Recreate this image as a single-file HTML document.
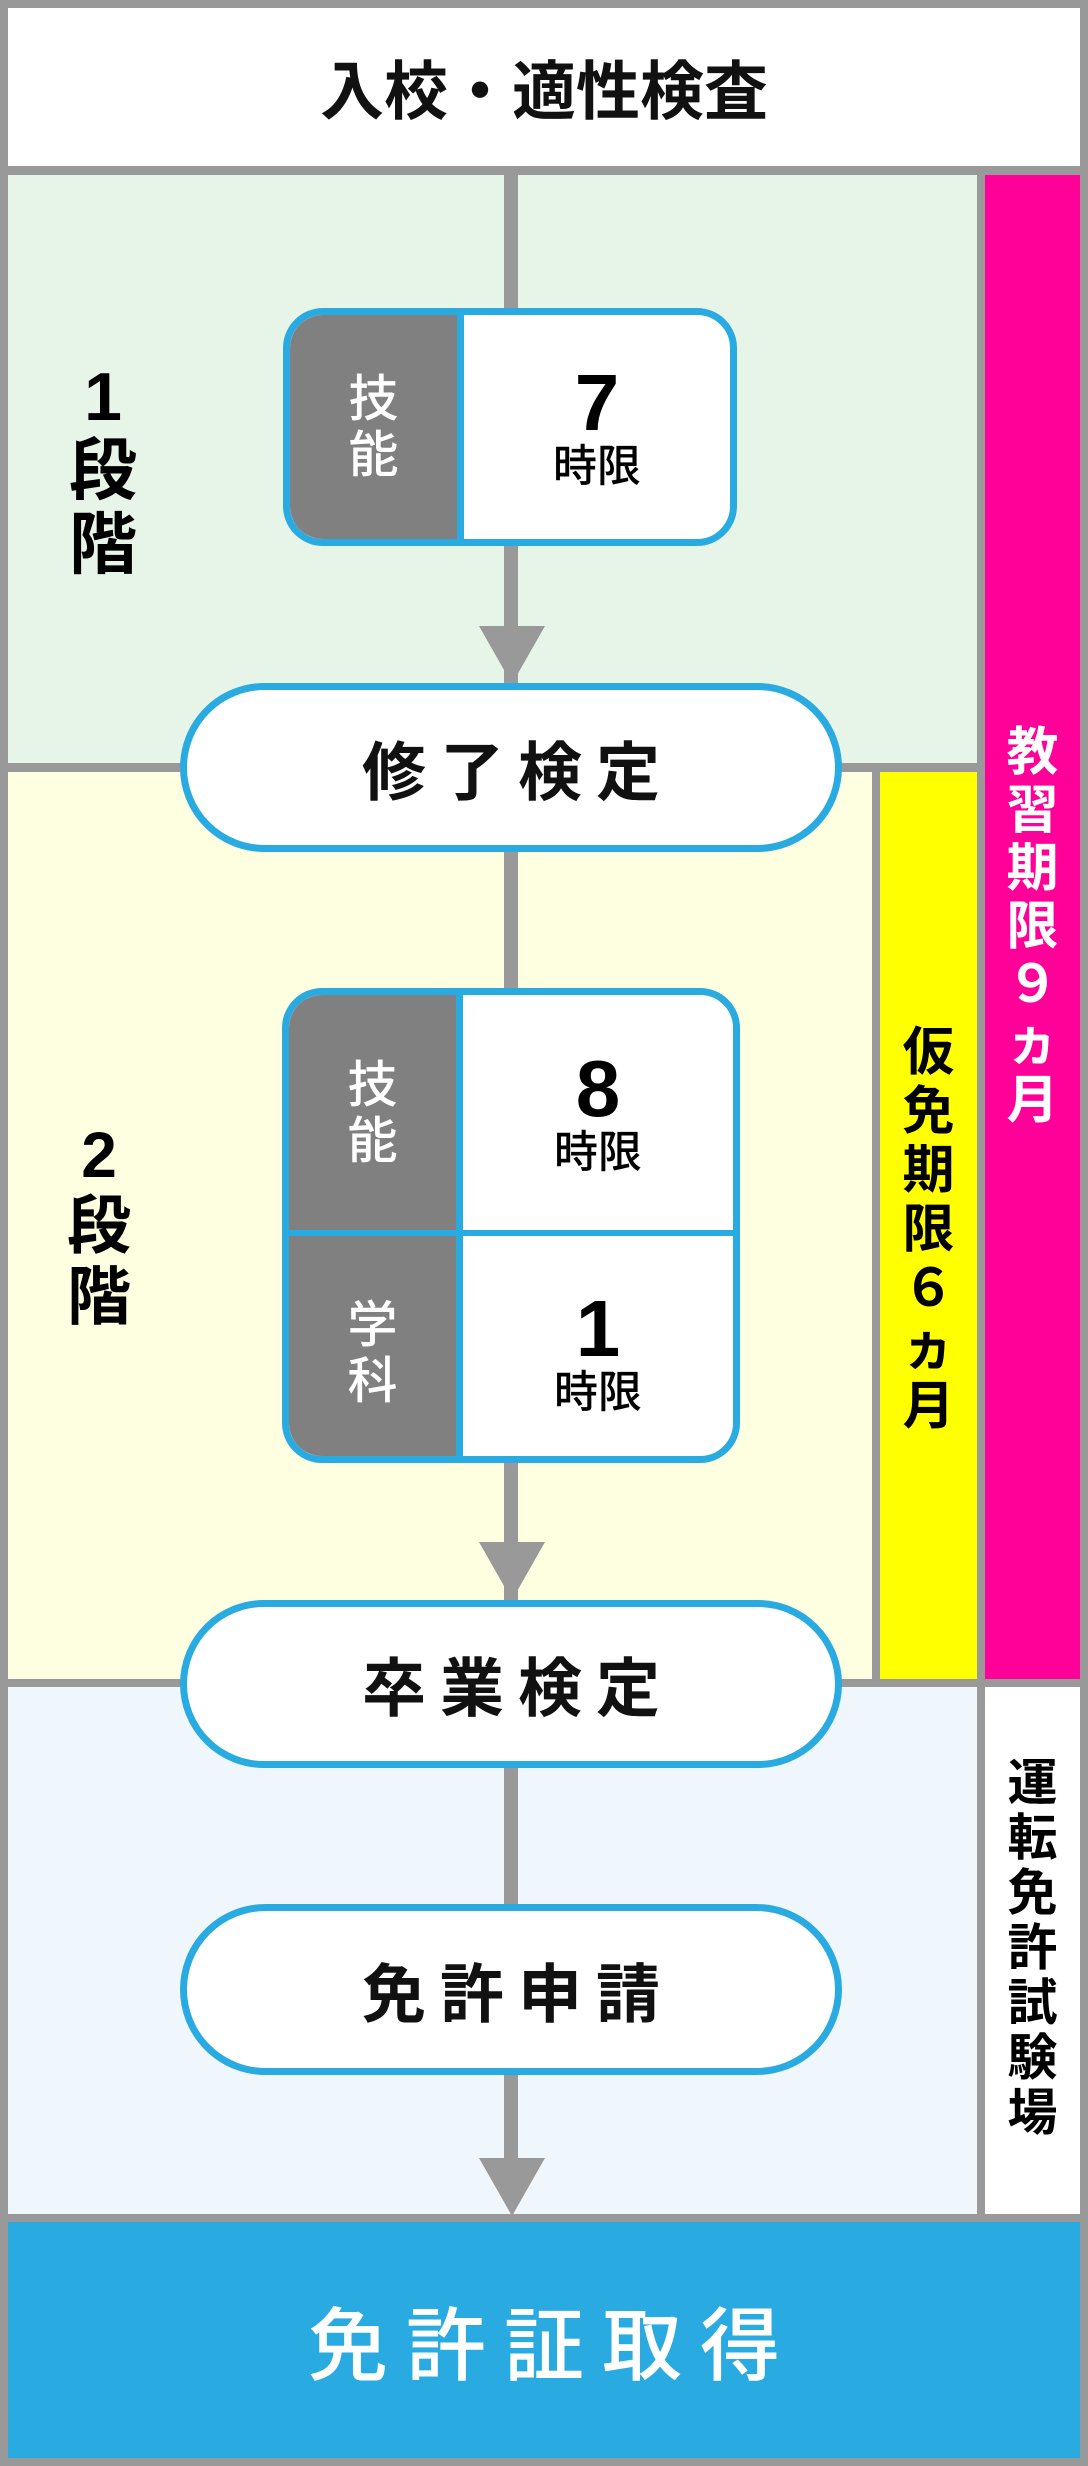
<!DOCTYPE html>
<html><head><meta charset="utf-8"><style>
*{margin:0;padding:0;box-sizing:border-box}
body{width:1088px;height:2466px;background:#999;position:relative;overflow:hidden;font-family:"Liberation Sans","Noto Sans CJK JP",sans-serif;}
.a{position:absolute}
.c{display:flex;align-items:center;justify-content:center;text-align:center}
.v{position:absolute;text-align:center;font-weight:700;font-size:50px;line-height:58px}
.pill{position:absolute;left:180px;width:662px;background:#fff;border:7px solid #29abe2;border-radius:90px;display:flex;align-items:center;justify-content:center;font-weight:700;font-size:64px;letter-spacing:14px;padding-left:14px;color:#111}
.tri{position:absolute;left:479px;width:0;height:0;border-left:33px solid transparent;border-right:33px solid transparent;border-top:58px solid #999}
.box{position:absolute;left:282px;width:458px;border:7px solid #29abe2;border-radius:40px;background:#fff;overflow:hidden}
.g{position:absolute;left:0;width:167px;background:#808080;color:#fff;font-size:50px;line-height:56px;font-weight:500}
.w{position:absolute;left:174px;right:0;color:#000}
.num{font-size:80px;font-weight:700;line-height:80px}
.jg{font-size:44px;font-weight:500;line-height:48px}
</style></head><body>
<div class="a c" style="left:8px;top:8px;width:1072px;height:158px;background:#fff;font-size:64px;font-weight:700;color:#111">入校・適性検査</div>
<div class="a" style="left:8px;top:175px;width:969px;height:588px;background:#e7f5e8"></div>
<div class="a" style="left:985px;top:175px;width:95px;height:1504px;background:#ff0099"></div>
<div class="a" style="left:8px;top:772px;width:864px;height:907px;background:#fefee0"></div>
<div class="a" style="left:880px;top:772px;width:97px;height:907px;background:#ffff00"></div>
<div class="a" style="left:8px;top:1687px;width:969px;height:527px;background:#eff7fd"></div>
<div class="a" style="left:985px;top:1687px;width:95px;height:527px;background:#fff"></div>
<div class="a c" style="left:8px;top:2222px;width:1072px;height:236px;background:#29abe2;color:#fff;font-size:80px;font-weight:500;letter-spacing:18px;padding-left:18px">免許証取得</div>

<div class="a" style="left:504px;top:175px;width:14px;height:1990px;background:#999"></div>

<div class="v" style="left:48px;top:360px;width:110px;font-size:68px;line-height:74px">1<br>段<br>階</div>
<div class="v" style="left:44px;top:1120px;width:110px;font-size:64px;line-height:71px">2<br>段<br>階</div>
<div class="v" style="left:985px;top:724px;width:95px;color:#fff;font-size:52px;line-height:58px">教<br>習<br>期<br>限<br>９<br>ヵ<br>月</div>
<div class="v" style="left:880px;top:1024px;width:97px;color:#000;font-size:52px;line-height:59px">仮<br>免<br>期<br>限<br>６<br>ヵ<br>月</div>
<div class="v" style="left:985px;top:1756px;width:95px;color:#000;font-size:50px;line-height:55px">運<br>転<br>免<br>許<br>試<br>験<br>場</div>

<div class="box" style="top:308px;height:238px;left:283px;width:454px;">
 <div class="g c" style="top:0;height:100%;"><div>技<br>能</div></div>
 <div class="a" style="left:167px;top:0;width:7px;height:100%;background:#29abe2"></div>
 <div class="w c" style="top:0;height:100%"><div><div class="num">7</div><div class="jg">時限</div></div></div>
</div>
<div class="tri" style="top:626px"></div>
<div class="pill" style="top:683px;height:169px">修了検定</div>

<div class="box" style="top:988px;height:475px">
 <div class="g c" style="top:0;height:235px"><div>技<br>能</div></div>
 <div class="g c" style="top:241px;height:234px"><div>学<br>科</div></div>
 <div class="a" style="left:167px;top:0;width:7px;height:100%;background:#29abe2"></div>
 <div class="a" style="left:0;top:235px;width:100%;height:6px;background:#29abe2"></div>
 <div class="w c" style="top:0;height:235px"><div><div class="num">8</div><div class="jg">時限</div></div></div>
 <div class="w c" style="top:241px;height:234px"><div><div class="num">1</div><div class="jg">時限</div></div></div>
</div>
<div class="tri" style="top:1542px"></div>
<div class="pill" style="top:1600px;height:168px">卒業検定</div>
<div class="pill" style="top:1904px;height:171px">免許申請</div>
<div class="tri" style="top:2158px"></div>
</body></html>
